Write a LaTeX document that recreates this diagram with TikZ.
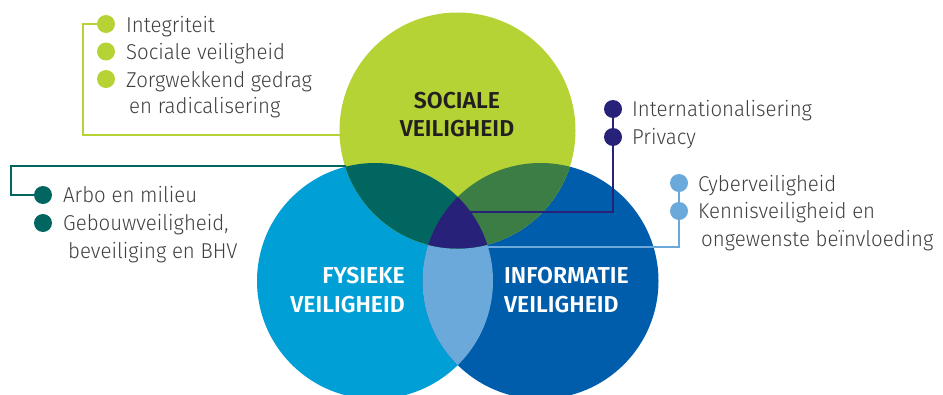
\documentclass[tikz,border=0pt]{standalone}
\usepackage{fontspec}
\usepackage{tikz}
\IfFontExistsTF{Fira Sans Light}{\newfontfamily\listfont{Fira Sans Light}[FakeStretch=0.95]}{\newfontfamily\listfont{Fira Sans}[FakeStretch=0.95]}
\IfFontExistsTF{Fira Sans SemiBold}{\newfontfamily\titlefont{Fira Sans SemiBold}}{\newfontfamily\titlefont{Fira Sans Bold}}
\definecolor{socgreen}{HTML}{B5D334}
\definecolor{fysblue}{HTML}{009FD6}
\definecolor{infoblue}{HTML}{005DAC}
\definecolor{tealmix}{HTML}{00665F}
\definecolor{greenmix}{HTML}{3B7D45}
\definecolor{lightmix}{HTML}{6BA9DB}
\definecolor{navymix}{HTML}{27217A}
\definecolor{textgray}{HTML}{404040}
\definecolor{titledark}{HTML}{231F20}
\tikzstyle{bullet}=[circle,minimum size=18pt,inner sep=0pt]
\tikzstyle{item}=[anchor=base west,inner sep=0pt,text=textgray,font=\listfont\fontsize{21.5}{26}\selectfont]
\tikzstyle{title}=[inner sep=0pt,font=\titlefont\fontsize{23}{28}\selectfont]
\tikzstyle{link} = [draw,line width=2.4pt,-]
\begin{document}
\begin{tikzpicture}[x=1pt,y=-1pt]
    \useasboundingbox (0,0) rectangle (943,394);
    % Centres of the three circles
    \coordinate (soc) at (457.5,130.5);
    \coordinate (fys) at (375,281);
    \coordinate (info) at (540.5,281);
    % First we draw the circles
    \fill[fysblue] (fys) circle[radius=118pt];
    \fill[infoblue] (info) circle[radius=118pt];
    \fill[socgreen] (soc) circle[radius=118pt];
    % Then the overlaps
    \begin{scope}
        \clip (fys) circle[radius=118pt];
        \fill[lightmix] (info) circle[radius=118pt];
    \end{scope}
    \begin{scope}
        \clip (soc) circle[radius=118pt];
        \fill[tealmix] (fys) circle[radius=118pt];
        \fill[greenmix] (info) circle[radius=118pt];
        \clip (fys) circle[radius=118pt];
        \fill[navymix] (info) circle[radius=118pt];
    \end{scope}
    % Titles in the circles
    \node[title,text=titledark,anchor=base] (soc-a) at (457,108) {SOCIALE};
    \node[title,text=titledark,anchor=base] (soc-b) at (457,136) {VEILIGHEID};
    \node[title,text=white,anchor=base east] (fys-a) at (405,283) {FYSIEKE};
    \node[title,text=white,anchor=base east] (fys-b) at (405,312) {VEILIGHEID};
    \node[title,text=white,anchor=base west] (info-a) at (504,283) {INFORMATIE};
    \node[title,text=white,anchor=base west] (info-b) at (504,312) {VEILIGHEID};
    % Bullets of the four lists
    \foreach \pos/\name in {{(106,24)/integ}, {(106,51.5)/socv}, {(106,79)/zorg}}
        \node[bullet,fill=socgreen] (\name) at \pos {};
    \foreach \pos/\name in {{(43,195)/arbo}, {(43,223)/gebouw}}
        \node[bullet,fill=tealmix] (\name) at \pos {};
    \foreach \pos/\name in {{(613,109)/intern}, {(613,137)/priv}}
        \node[bullet,fill=navymix] (\name) at \pos {};
    \foreach \pos/\name in {{(679,183)/cyber}, {(679,211)/kennis}}
        \node[bullet,fill=lightmix] (\name) at \pos {};
    % The texts next to them
    \node[item] (integ-t) at (126,32) {Integriteit};
    \node[item] (socv-t) at (126,59.5) {Sociale veiligheid};
    \node[item] (zorg-t) at (126,87) {Zorgwekkend gedrag};
    \node[item] (zorg-u) at (129,113.5) {en radicalisering};
    \node[item] (arbo-t) at (63,202.5) {Arbo en milieu};
    \node[item] (gebouw-t) at (63,230.5) {Gebouwveiligheid,};
    \node[item] (gebouw-u) at (68,258) {beveiliging en BHV};
    \node[item] (intern-t) at (632,116.5) {Internationalisering};
    \node[item] (priv-t) at (632,144.5) {Privacy};
    \node[item] (cyber-t) at (698,191) {Cyberveiligheid};
    \node[item] (kennis-t) at (698,218.5) {Kennisveiligheid en};
    \node[item] (kennis-u) at (701,246.5) {ongewenste beïnvloeding};
    % Ends of the connectors inside the circles
    \coordinate (soc-in) at (340,135);
    \coordinate (fys-in) at (346,166);
    \coordinate (mid-in) at (466,212);
    \coordinate (lens-in) at (484,247);
    % Connect the lists with the circles
    \path[link,socgreen] (integ) -- ++(-23,0) |- (soc-in);
    \path[link,tealmix] (arbo) -- ++(-32,0) |- (fys-in);
    \path[link,navymix] (intern) |- (mid-in);
    \path[link,lightmix] (cyber) |- (lens-in);
\end{tikzpicture}
\end{document}
